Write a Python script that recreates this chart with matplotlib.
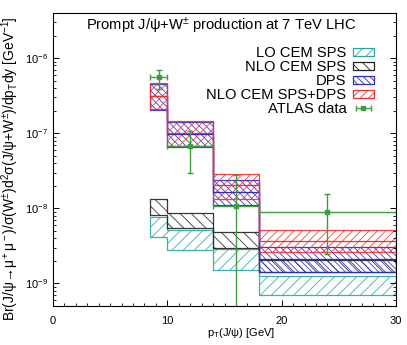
import numpy as np
import matplotlib
matplotlib.use('Agg')
import matplotlib.pyplot as plt
from matplotlib.patches import Patch

plt.rcParams['font.family'] = ['Liberation Sans', 'DejaVu Sans']
plt.rcParams['mathtext.fontset'] = 'custom'
plt.rcParams['mathtext.rm'] = 'Liberation Sans'
plt.rcParams['mathtext.it'] = 'Liberation Sans:italic'
plt.rcParams['hatch.linewidth'] = 0.6

# pT bins [GeV]
edges = [8.5, 10, 14, 18, 30]

# LO CEM SPS band
lo_sps_low = [4.2e-9, 2.8e-9, 1.5e-9, 7.1e-10]
lo_sps_high = [7.6e-9, 5.2e-9, 2.9e-9, 1.24e-9]
# NLO CEM SPS band
nlo_sps_low = [8.1e-9, 5.4e-9, 3.0e-9, 1.42e-9]
nlo_sps_high = [1.32e-8, 8.65e-9, 4.8e-9, 2.03e-9]
# DPS band
dps_low = [2.03e-7, 6.5e-8, 1.1e-8, 1.42e-9]
dps_mid = [3.1e-7, 9.7e-8, 1.65e-8, 2.1e-9]
dps_high = [4.6e-7, 1.4e-7, 2.42e-8, 3.1e-9]
# NLO CEM SPS+DPS band
tot_low = [2.1e-7, 6.7e-8, 1.35e-8, 2.6e-9]
tot_mid = [3.15e-7, 1.0e-7, 2.03e-8, 3.7e-9]
tot_high = [4.7e-7, 1.46e-7, 2.9e-8, 5.2e-9]

# ATLAS data
atlas_x = [9.25, 12, 16, 24]
atlas_xerr = [0.75, 2, 2, 6]
atlas_y = [5.64e-7, 6.7e-8, 1.07e-8, 8.9e-9]
atlas_hi = [6.9e-7, 1.06e-7, 2.75e-8, 1.54e-8]
atlas_lo = [3.9e-7, 2.96e-8, 1e-12, 2.44e-9]

c_lo = '#2ba6a6'
c_nlo = '#222222'
c_dps = '#2b2bc0'
c_tot = '#f03030'
c_atl = '#3d9e3d'


def st(v):
    return np.append(v, v[-1])


fig = plt.figure(figsize=(4.07, 3.45), dpi=100)
ax = fig.add_axes([53 / 407, 1 - 306 / 345, 343 / 407, 293 / 345])

bands = [
    (lo_sps_low, lo_sps_high, None, c_lo, '///', 'LO CEM SPS'),
    (nlo_sps_low, nlo_sps_high, None, c_nlo, '\\\\\\', 'NLO CEM SPS'),
    (dps_low, dps_high, dps_mid, c_dps, '\\\\\\\\\\', 'DPS'),
    (tot_low, tot_high, tot_mid, c_tot, '////', 'NLO CEM SPS+DPS'),
]
handles = []
for lo, hi, mid, col, hat, lab in bands:
    ax.fill_between(edges, st(lo), st(hi), step='post', facecolor='none',
                    edgecolor=col, hatch=hat, linewidth=0.9, alpha=0.9)
    if mid is not None:
        ax.step(edges, st(mid), where='post', color=col, lw=0.9)
    handles.append(Patch(facecolor='none', edgecolor=col, hatch=hat,
                         linewidth=0.9, label=lab))

y = np.array(atlas_y)
yerr = [y - np.array(atlas_lo), np.array(atlas_hi) - y]
ax.errorbar(atlas_x, atlas_y, xerr=atlas_xerr, yerr=yerr, fmt='s',
            color=c_atl, ms=3.5, lw=1.0, capsize=2.5, capthick=1.0)
# legend entry shows only the horizontal bar
eb = ax.errorbar([np.nan], [np.nan], xerr=[1], fmt='s', color=c_atl, ms=3,
                 lw=1.0, capsize=2.5, capthick=1.0, label='ATLAS data')
handles.append(eb)

ax.set_yscale('log')
ax.set_xlim(0, 30)
ax.set_ylim(5e-10, 4e-6)
ax.set_xticks([0, 10, 20, 30])
ax.set_xticks(np.arange(0, 31, 1), minor=True)
ax.tick_params(which='both', direction='in', labelsize=8, top=False, right=True)
ax.tick_params(which='major', length=4.5, width=0.7)
ax.tick_params(which='minor', length=2.5, width=0.6)
ax.tick_params(axis='x', which='major', pad=7)
for s in ax.spines.values():
    s.set_linewidth(0.8)

ax.set_xlabel(r'p$_\mathrm{T}$(J/ψ) [GeV]', fontsize=8)
ax.xaxis.set_label_coords(0.547, -0.068)
ax.set_ylabel(r'Br(J/ψ→μ$^+$μ$^-$)/σ(W$^{\pm}$)d$^2$σ(J/ψ+W$^{\pm}$)/dp$_\mathrm{T}$dy [GeV$^{-1}$]',
              fontsize=10)
ax.yaxis.set_label_coords(-0.092, 0.47)

ax.text(0.491, 0.956, r'Prompt J/ψ+W$^{\pm}$ production at 7 TeV LHC',
        transform=ax.transAxes, ha='center', va='center', fontsize=10.6)

ax.legend(handles=handles, loc='upper right', bbox_to_anchor=(0.935, 0.888),
          frameon=False, markerfirst=False, fontsize=10.6, borderpad=0,
          borderaxespad=0, handlelength=1.4, handleheight=0.45,
          handletextpad=0.45, labelspacing=0.0)

fig.savefig('out.png', dpi=100)
